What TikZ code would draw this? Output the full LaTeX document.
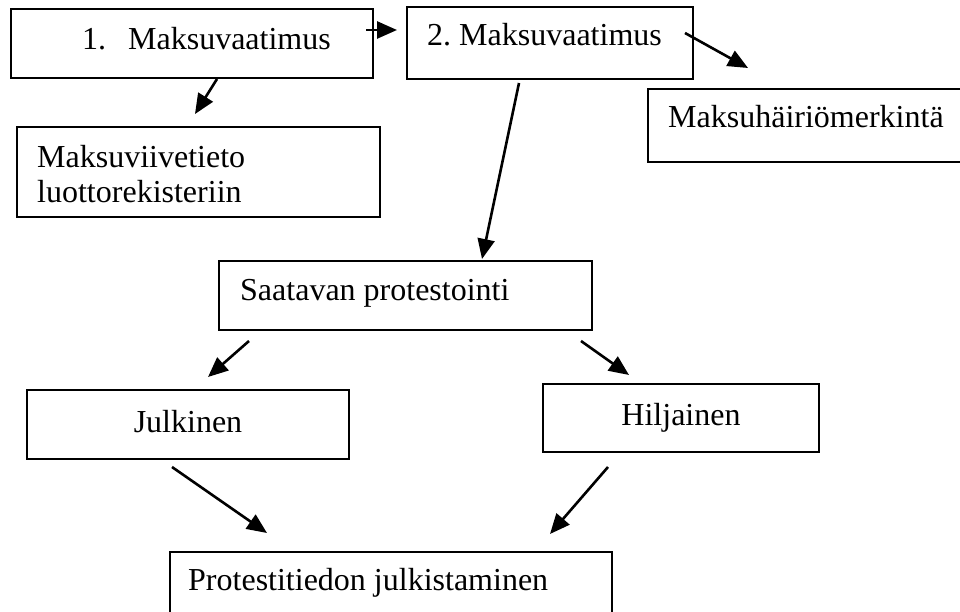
\documentclass[tikz,border=0pt]{standalone}
\usepackage{fontspec}
\setmainfont{Liberation Serif}
\usetikzlibrary{arrows.meta}
\tikzset{
  box/.style={draw=black, line width=1.6pt, rectangle, inner sep=0pt},
  txt/.style={inner sep=0pt, font=\fontsize{32}{38}\selectfont\frenchspacing},
  conn/.style={line width=2.6pt, -{Triangle[length=20pt,width=17pt]}}
}
\begin{document}
\begin{tikzpicture}[x=1pt,y=-1pt]
\useasboundingbox (0,0) rectangle (960,612);
\clip (0,0) rectangle (960,612);
% boxes
\node[box, minimum width=362pt, minimum height=69pt] (b1) at (192,43.5) {};
\node[box, minimum width=286pt, minimum height=72pt] (b2) at (550,43) {};
\node[box, minimum width=352pt, minimum height=73pt] (b3) at (824,125.5) {};
\node[box, minimum width=363pt, minimum height=90pt] (b4) at (198.5,172) {};
\node[box, minimum width=373pt, minimum height=69pt] (b5) at (405.5,295.5) {};
\node[box, minimum width=322pt, minimum height=69pt] (b6) at (188,424.5) {};
\node[box, minimum width=276pt, minimum height=68pt] (b7) at (681,418) {};
\node[box, minimum width=442pt, minimum height=98pt] (b8) at (391,601) {};
% texts
\node[txt, anchor=base west] (t1) at (82,50) {\makebox[46pt][l]{1.}Maksuvaatimus};
\node[txt, anchor=base west] (t2) at (427,46) {2. Maksuvaatimus};
\node[txt, anchor=base west] (t3) at (668,128) {Maksuhäiriömerkintä};
\node[txt, anchor=base west] (t4a) at (37,168) {Maksuviivetieto};
\node[txt, anchor=base west] (t4b) at (37,203) {luottorekisteriin};
\node[txt, anchor=base west] (t5) at (240,300) {Saatavan protestointi};
\node[txt, anchor=base] (t6) at (188,432) {Julkinen};
\node[txt, anchor=base] (t7) at (681,425) {Hiljainen};
\node[txt, anchor=base west] (t8) at (188,590) {Protestitiedon julkistaminen};
% connector end points
\coordinate (a1s) at (366,30);  \coordinate (a1e) at (397,30);
\coordinate (a2s) at (685,33);  \coordinate (a2e) at (748,68);
\coordinate (a3s) at (217,79);  \coordinate (a3e) at (195,114);
\coordinate (a4s) at (519,83);  \coordinate (a4e) at (482,259);
\coordinate (a5s) at (249,341); \coordinate (a5e) at (208,377);
\coordinate (a6s) at (581,341); \coordinate (a6e) at (629,375);
\coordinate (a7s) at (172,467); \coordinate (a7e) at (267,533);
\coordinate (a8s) at (608,467); \coordinate (a8e) at (550,534);
% connectors
\draw[conn] (a1s) -- (a1e);
\draw[conn] (a2s) -- (a2e);
\draw[conn] (a3s) -- (a3e);
\draw[conn] (a4s) -- (a4e);
\draw[conn] (a5s) -- (a5e);
\draw[conn] (a6s) -- (a6e);
\draw[conn] (a7s) -- (a7e);
\draw[conn] (a8s) -- (a8e);
\end{tikzpicture}
\end{document}
